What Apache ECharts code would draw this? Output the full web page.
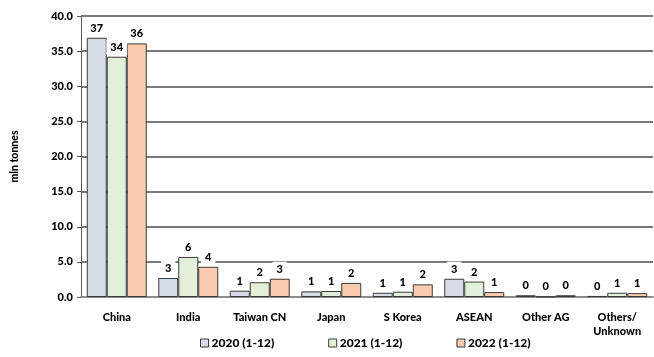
<!DOCTYPE html>
<html>
<head>
<meta charset="utf-8">
<script src="https://cdn.jsdelivr.net/npm/echarts@6/dist/echarts.min.js"></script>
<style>
  html, body { margin: 0; padding: 0; background: #fff; }
  #chart { width: 654px; height: 357px; }
</style>
</head>
<body>
<div id="chart"></div>
<script>
// Destinations and yearly volumes (mln tonnes)
const categories = ['China', 'India', 'Taiwan CN', 'Japan', 'S Korea', 'ASEAN', 'Other AG', 'Others/\nUnknown'];
const seriesNames = ['2020 (1-12)', '2021 (1-12)', '2022 (1-12)'];
const values2020 = [36.9, 2.7, 0.9, 0.8, 0.6, 2.6, 0.25, 0.15];
const values2021 = [34.2, 5.7, 2.1, 0.85, 0.75, 2.2, 0.05, 0.6];
const values2022 = [36.1, 4.3, 2.6, 2.0, 1.8, 0.7, 0.25, 0.55];
const yTicks = [0, 5, 10, 15, 20, 25, 30, 35, 40];

const fills = ['#D6DCE5', '#E2F0D9', '#F8CBAD'];
const font = 'Lato, "Open Sans", sans-serif';
const heavy = 900;

function makeSeries(name, data, color) {
  return {
    name: name,
    type: 'bar',
    data: data,
    barWidth: 20,
    barGap: '0%',
    itemStyle: { color: color, borderColor: '#3a3a3a', borderWidth: 1 },
    label: {
      show: true,
      position: 'top',
      distance: 2,
      formatter: p => Math.round(p.value).toString(),
      color: '#000',
      fontFamily: font,
      fontWeight: heavy,
      fontSize: 11,
      backgroundColor: '#fff',
      padding: [2, 4]
    }
  };
}

const chart = echarts.init(document.getElementById('chart'));
chart.setOption({
  animation: false,
  textStyle: { fontFamily: font },
  grid: { left: 81, right: 1, top: 16, bottom: 60, containLabel: false },
  xAxis: {
    type: 'category',
    data: categories,
    axisLine: { lineStyle: { color: '#8c8c8c', width: 2 } },
    axisTick: { show: false },
    axisLabel: {
      color: '#000', fontWeight: heavy, fontSize: 11, fontFamily: font,
      margin: 13, lineHeight: 14, interval: 0
    }
  },
  yAxis: {
    type: 'value',
    min: yTicks[0],
    max: yTicks[yTicks.length - 1],
    interval: yTicks[1] - yTicks[0],
    name: 'mln tonnes',
    nameLocation: 'middle',
    nameRotate: 90,
    nameGap: 61,
    nameTextStyle: { color: '#000', fontWeight: heavy, fontSize: 10.5, fontFamily: font },
    axisLine: { show: true, lineStyle: { color: '#595959' } },
    axisTick: { show: true, inside: false, length: 4, lineStyle: { color: '#595959' } },
    axisLabel: {
      color: '#000', fontWeight: heavy, fontSize: 11, fontFamily: font, margin: 8,
      formatter: v => v.toFixed(1)
    },
    splitLine: { show: true, lineStyle: { color: '#7a7a7a', width: 2 } }
  },
  legend: {
    bottom: 3,
    left: 195,
    itemWidth: 8,
    itemHeight: 8,
    itemGap: 54,
    icon: 'rect',
    textStyle: { color: '#000', fontWeight: heavy, fontSize: 12, fontFamily: font, padding: [0, 0, 0, -2] },
    data: seriesNames.map((n, i) => ({ name: n, itemStyle: { color: fills[i], borderColor: '#3a3a3a', borderWidth: 1 } }))
  },
  series: [
    makeSeries(seriesNames[0], values2020, fills[0]),
    makeSeries(seriesNames[1], values2021, fills[1]),
    makeSeries(seriesNames[2], values2022, fills[2])
  ]
});
</script>
</body>
</html>
